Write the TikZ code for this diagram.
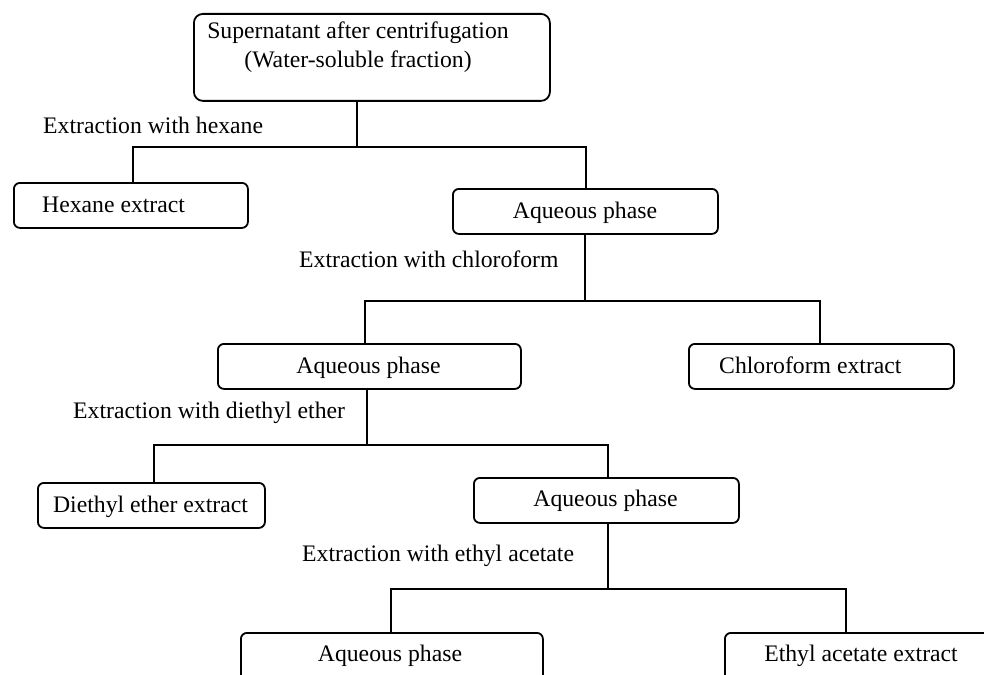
\documentclass[tikz,border=0pt]{standalone}
\usepackage{fontspec}
\setmainfont{Liberation Serif}
\begin{document}
\begin{tikzpicture}[x=1pt,y=-1pt,
  box/.style={draw, line width=1.8pt, rounded corners=6pt, anchor=north west, inner sep=0pt},
  txt/.style={font=\fontsize{23.7}{29}\selectfont, inner sep=0pt},
  link/.style={line width=1.8pt}]
\useasboundingbox (0,0) rectangle (984,674);
\clip (0,0) rectangle (984,674);
\fill[white] (0,0) rectangle (984,674);

% boxes
\node[box, minimum width=356pt, minimum height=87pt, rounded corners=9pt] (b0) at (193,13) {};
\node[box, minimum width=234pt, minimum height=45pt] (b1) at (13,182) {};
\node[box, minimum width=265pt, minimum height=45pt] (b2) at (452,188) {};
\node[box, minimum width=303pt, minimum height=45pt] (b3) at (217,343) {};
\node[box, minimum width=265pt, minimum height=45pt] (b4) at (688,343) {};
\node[box, minimum width=227pt, minimum height=45pt] (b5) at (37,482) {};
\node[box, minimum width=265pt, minimum height=45pt] (b6) at (473,477) {};
\node[box, minimum width=302pt, minimum height=70pt] (b7) at (240,632) {};
\node[box, minimum width=274pt, minimum height=70pt] (b8) at (724,632) {};

% box texts
\node[txt, anchor=base] (t0a) at (358,39) {Supernatant after centrifugation};
\node[txt, anchor=base] (t0b) at (358,68) {(Water-soluble fraction)};
\node[txt, anchor=base west] (t1) at (42,212) {Hexane extract};
\node[txt, anchor=base] (t2) at (585,218) {Aqueous phase};
\node[txt, anchor=base] (t3) at (368.5,373) {Aqueous phase};
\node[txt, anchor=base west] (t4) at (719,373) {Chloroform extract};
\node[txt, anchor=base] (t5) at (150.5,512) {Diethyl ether extract};
\node[txt, anchor=base] (t6) at (605.5,506) {Aqueous phase};
\node[txt, anchor=base] (t7) at (390,661) {Aqueous phase};
\node[txt, anchor=base] (t8) at (861,661) {Ethyl acetate extract};

% step labels
\node[txt, anchor=base west] (l1) at (43,133) {Extraction with hexane};
\node[txt, anchor=base west] (l2) at (299,267) {Extraction with chloroform};
\node[txt, anchor=base west] (l3) at (73,418) {Extraction with diethyl ether};
\node[txt, anchor=base west] (l4) at (302,561) {Extraction with ethyl acetate};

% connectors
\coordinate (j0) at (357,147);
\draw[link] (b0.south -| j0) -- (j0);
\draw[link] ([xshift=2pt]b1.north) |- (j0) -| ([xshift=0.5pt]b2.north);

\coordinate (j1) at (585,301);
\draw[link] (b2.south -| j1) -- (j1);
\draw[link] ([xshift=-4.5pt]b3.north) |- (j1) -| ([xshift=-1.5pt]b4.north);

\coordinate (j2) at (367,445);
\draw[link] (b3.south -| j2) -- (j2);
\draw[link] ([xshift=2.5pt]b5.north) |- (j2) -| ([xshift=1.5pt]b6.north);

\coordinate (j3) at (608,589);
\draw[link] (b6.south -| j3) -- (j3);
\draw[link] ([xshift=-1pt]b7.north) |- (j3) -| ([xshift=-16pt]b8.north);
\end{tikzpicture}
\end{document}
